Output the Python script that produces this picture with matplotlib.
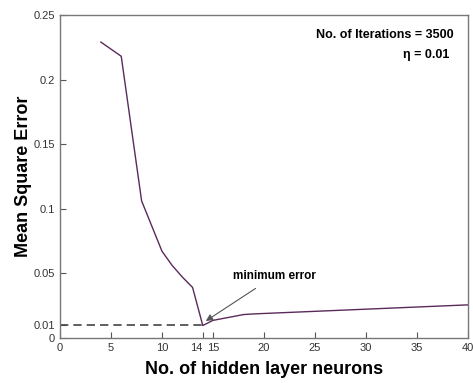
import numpy as np
import matplotlib
matplotlib.use('Agg')
import matplotlib.pyplot as plt

plt.rcParams['font.family'] = ['Liberation Sans', 'DejaVu Sans']

# data
neurons = [4, 6, 8, 10, 11, 12, 13, 14, 15, 18, 19, 40]
mse = [0.229, 0.218, 0.106, 0.067, 0.056, 0.047, 0.039, 0.0095, 0.0135, 0.018, 0.0185, 0.0255]
x_ticks = [0, 5, 10, 14, 15, 20, 25, 30, 35, 40]
y_ticks = [0, 0.01, 0.05, 0.1, 0.15, 0.2, 0.25]
y_ticklabels = ['0', '0.01', '0.05', '0.1', '0.15', '0.2', '0.25']
min_x, min_y = 14, 0.01

fig = plt.figure(figsize=(4.73, 3.83), dpi=100)
ax = fig.add_axes([0.127, 0.118, 0.862, 0.843])

ax.plot(neurons, mse, color='#5a2a5a', linewidth=1)
ax.plot([0, min_x], [min_y, min_y], linestyle='--', color='#444444', linewidth=1.2, dashes=(5, 3))

ax.set_xlim(0, 40)
ax.set_ylim(0, 0.25)
ax.set_xticks(x_ticks)
ax.set_xticklabels([str(t) for t in x_ticks])
ax.set_yticks(y_ticks)
ax.set_yticklabels(y_ticklabels)
ax.tick_params(direction='in', length=4, width=0.8, colors='#555555', labelsize=8,
               labelcolor='#333333', top=False, right=False)
# 14 and 15 sit close together, shift 14 to the left of its tick
for lbl in ax.get_xticklabels():
    if lbl.get_text() == '14':
        lbl.set_ha('right')
for sp in ax.spines.values():
    sp.set_color('#777777')
    sp.set_linewidth(1.0)

ax.set_xlabel('No. of hidden layer neurons', fontsize=13, fontweight='bold', labelpad=6)
ax.set_ylabel('Mean Square Error', fontsize=13, fontweight='bold', labelpad=1)

ax.text(0.965, 0.938, 'No. of Iterations = 3500', transform=ax.transAxes,
        ha='right', va='center', fontsize=9, fontweight='bold')
ax.text(0.955, 0.875, 'η = 0.01', transform=ax.transAxes,
        ha='right', va='center', fontsize=9, fontweight='bold')

ax.annotate('minimum error', xy=(min_x + 0.3, min_y + 0.003), xytext=(17, 0.048),
            fontsize=8.5, fontweight='bold', ha='left', va='center',
            arrowprops=dict(arrowstyle='-|>', color='#555555', lw=0.8,
                            shrinkA=5, shrinkB=0, mutation_scale=10))

fig.savefig('out.png', dpi=100)
